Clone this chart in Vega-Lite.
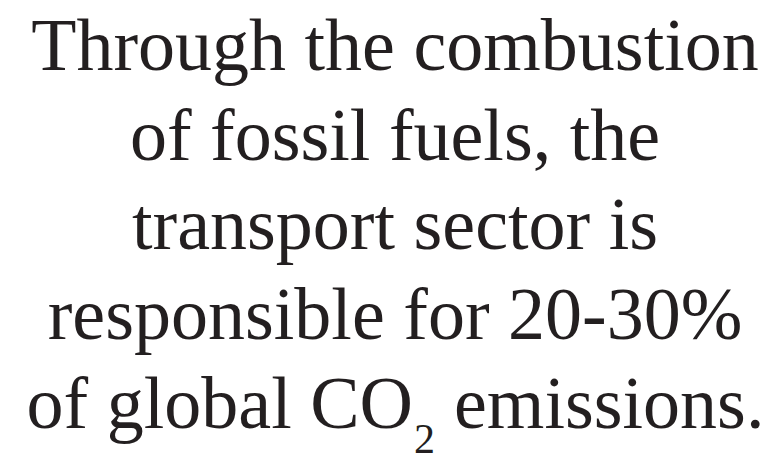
{
  "$schema": "https://vega.github.io/schema/vega-lite/v6.json",
  "autosize": {"type": "fit", "contains": "padding"},
  "width": 776,
  "height": 457,
  "padding": 0,
  "background": "#ffffff",
  "config": {"view": {"stroke": null}},
  "data": {
    "values": [
      {"line": 1, "segment": "main", "text": "Through the combustion"},
      {"line": 2, "segment": "main", "text": "of fossil fuels, the"},
      {"line": 3, "segment": "main", "text": "transport sector is"},
      {"line": 4, "segment": "main", "text": "responsible for 20-30%"},
      {"line": 5, "segment": "left", "text": "of global CO"},
      {"line": 5, "segment": "sub", "text": "2"},
      {"line": 5, "segment": "right", "text": "emissions."}
    ]
  },
  "encoding": {
    "y": {"field": "line", "type": "quantitative", "scale": {"domain": [1, 5], "range": [70, 428]}, "axis": null},
    "text": {"field": "text", "type": "nominal"}
  },
  "layer": [
    {
      "transform": [{"filter": "datum.segment === 'main'"}],
      "mark": {"type": "text", "font": "Liberation Serif", "fontSize": 74, "align": "center", "baseline": "alphabetic", "dx": 7, "color": "#231f20"}
    },
    {
      "transform": [{"filter": "datum.segment === 'left'"}],
      "mark": {"type": "text", "font": "Liberation Serif", "fontSize": 74, "align": "right", "baseline": "alphabetic", "dx": 25, "color": "#231f20"}
    },
    {
      "transform": [{"filter": "datum.segment === 'sub'"}],
      "mark": {"type": "text", "font": "Liberation Serif", "fontSize": 42, "align": "left", "baseline": "alphabetic", "dx": 26, "dy": 25, "color": "#231f20"}
    },
    {
      "transform": [{"filter": "datum.segment === 'right'"}],
      "mark": {"type": "text", "font": "Liberation Serif", "fontSize": 74, "align": "left", "baseline": "alphabetic", "dx": 66, "color": "#231f20"}
    }
  ]
}
